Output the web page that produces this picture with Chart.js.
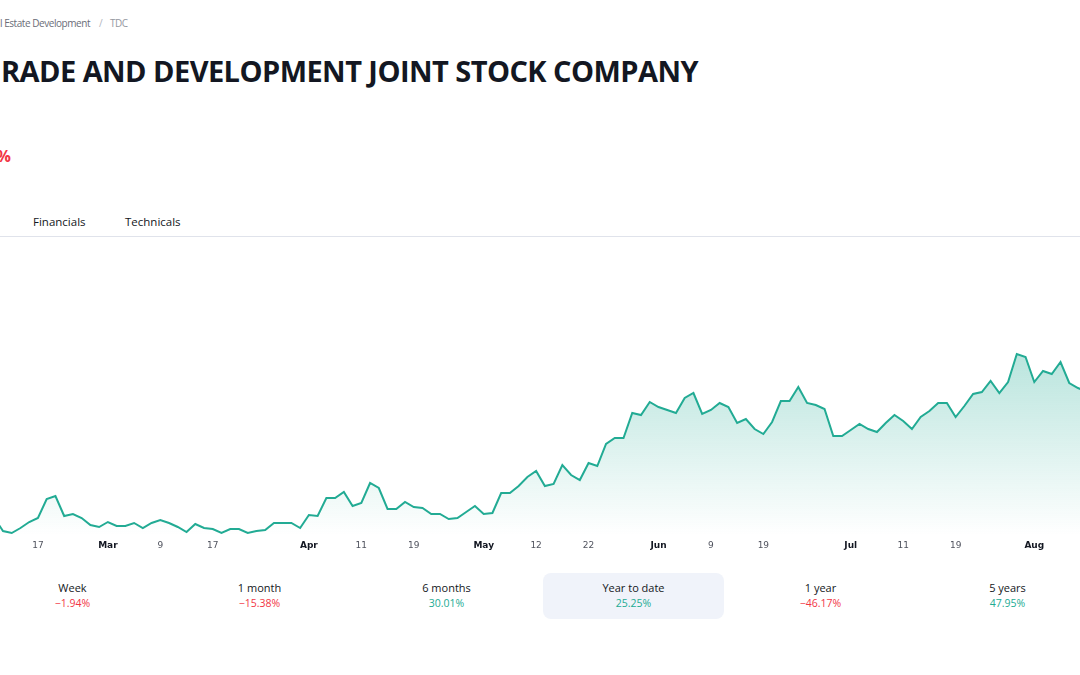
<!DOCTYPE html>
<html>
<head>
<meta charset="utf-8">
<script src="https://cdn.jsdelivr.net/npm/chart.js@4.4.1/dist/chart.umd.min.js"></script>
<style>
  html, body { margin: 0; padding: 0; background: #fff; }
  body { width: 1080px; height: 675px; position: relative; overflow: hidden;
         font-family: "Open Sans", "Noto Sans", sans-serif; color: #131722; }
  .abs { position: absolute; white-space: nowrap; }
  .crumb { top: 16px; font-size: 10px; line-height: 14px; color: #6a6d78; letter-spacing: -0.45px; }
  .title { top: 53px; font-size: 29px; line-height: 36px; font-weight: 700; color: #131722; }
  .tab { top: 214px; font-size: 11.5px; line-height: 16px; color: #131722; }
  .card { top: 573px; width: 181px; height: 46px; text-align: center; border-radius: 8px; }
  .card .lbl { margin-top: 8px; font-size: 11px; line-height: 14px; color: #131722; }
  .card .val { margin-top: 2px; font-size: 10.5px; line-height: 13px; }
  #wrap { position: absolute; left: 0; top: 300px; width: 1080px; height: 260px; }
</style>
</head>
<body>
<div class="abs crumb" style="right: 990px;">Real Estate Development</div>
<div class="abs crumb" style="left: 99px; color: #b2b5be;">/</div>
<div class="abs crumb" style="left: 110px; color: #9598a1;">TDC</div>

<div class="abs title" style="right: 1081px;">BINH DUONG T</div>
<div class="abs title" id="title" style="left: 1px;">RADE AND DEVELOPMENT JOINT STOCK COMPANY</div>

<div class="abs" style="right: 1069px; top: 146px; font-size: 16px; line-height: 20px; font-weight: 700; color: #f23645;">−0.97%</div>

<div class="abs tab" style="left: 33px;">Financials</div>
<div class="abs tab" style="left: 125px;">Technicals</div>
<div class="abs" style="left: 0; top: 236px; width: 1080px; height: 1px; background: #e0e3eb;"></div>

<div id="wrap"><canvas id="priceChart" width="1080" height="260"></canvas></div>
<div id="cards"></div>

<script>
// daily closes, first bar sits just left of the visible area
const firstBar = -1;
const prices = [
  9.10, 8.45, 8.35, 8.60, 8.90, 9.10, 10.05, 10.20, 9.20, 9.30, 9.10,
  8.75, 8.65, 8.90, 8.70, 8.70, 8.85, 8.60, 8.85, 9.00, 8.85,
  8.65, 8.40, 8.80, 8.60, 8.55, 8.35, 8.55, 8.55, 8.35, 8.45,
  8.50, 8.85, 8.85, 8.85, 8.60, 9.25, 9.20, 10.10, 10.10, 10.40,
  9.70, 9.85, 10.85, 10.60, 9.55, 9.55, 9.90, 9.65, 9.60, 9.30,
  9.30, 9.05, 9.10, 9.40, 9.70, 9.30, 9.35, 10.35, 10.35, 10.70,
  11.15, 11.45, 10.70, 10.80, 11.75, 11.25, 11.00, 11.85, 11.70, 12.80,
  13.10, 13.10, 14.35, 14.25, 14.90, 14.65, 14.50, 14.35, 15.10, 15.35,
  14.30, 14.50, 14.85, 14.65, 13.85, 14.05, 13.55, 13.30, 13.90, 14.95,
  14.95, 15.65, 14.85, 14.75, 14.55, 13.20, 13.20, 13.50, 13.80, 13.55,
  13.40, 13.85, 14.25, 13.95, 13.55, 14.15, 14.45, 14.85, 14.85, 14.15,
  14.70, 15.30, 15.40, 15.95, 15.35, 15.90, 17.30, 17.15, 15.90, 16.45,
  16.30, 16.90, 15.85, 15.60, 15.40
];

// x axis labels and the bar they sit under
const tickBars = [4, 12, 18, 24, 35, 41, 47, 55, 61, 67, 75, 81, 87, 97, 103, 109, 118];
const tickLabels = ["17", "Mar", "9", "17", "Apr", "11", "19", "May", "12", "22", "Jun", "9", "19", "Jul", "11", "19", "Aug"];
const monthLabels = ["Mar", "Apr", "May", "Jun", "Jul", "Aug"];

// performance strip
const perfLabels = ["Week", "1 month", "6 months", "Year to date", "1 year", "5 years"];
const perfValues = ["−1.94%", "−15.38%", "30.01%", "25.25%", "−46.17%", "47.95%"];
const perfUp = [false, false, true, true, false, true];
const perfActive = 3;

const green = "#22ab94";
const red = "#f23645";

// fit the title width
const title = document.getElementById("title");
const w = title.getBoundingClientRect().width;
title.style.letterSpacing = ((697 - w) / title.textContent.length) + "px";

// cards
const cards = document.getElementById("cards");
perfLabels.forEach((lbl, i) => {
  const c = document.createElement("div");
  c.className = "abs card";
  c.style.left = (543 + (i - 3) * 187) + "px";
  if (i === perfActive) c.style.background = "#f0f3fa";
  c.innerHTML = '<div class="lbl">' + lbl + '</div><div class="val" style="color:' +
    (perfUp[i] ? green : red) + '">' + perfValues[i] + '</div>';
  cards.appendChild(c);
});

const points = prices.map((p, i) => ({ x: firstBar + i, y: p }));

const ctx = document.getElementById("priceChart").getContext("2d");

const priceChart = new Chart(ctx, {
  type: "line",
  data: {
    datasets: [
      {
        data: points,
        borderColor: green,
        borderWidth: 2,
        pointRadius: 0,
        tension: 0,
        fill: "start",
        backgroundColor: (c) => {
          const area = c.chart.chartArea;
          if (!area) return "rgba(34,171,148,0.2)";
          const g = c.chart.ctx.createLinearGradient(0, 50, 0, area.bottom);
          g.addColorStop(0, "rgba(34,171,148,0.32)");
          g.addColorStop(1, "rgba(34,171,148,0.0)");
          return g;
        },
      },
    ],
  },
  options: {
    responsive: false,
    animation: false,
    devicePixelRatio: 1,
    layout: { padding: 0 },
    plugins: { legend: { display: false }, tooltip: { enabled: false } },
    scales: {
      x: {
        type: "linear",
        min: -0.343,
        max: 123.23,
        grid: { display: false, drawTicks: false },
        border: { display: false },
        afterBuildTicks: (s) => {
          s.ticks = tickBars.map((v) => ({ value: v }));
        },
        afterFit: (s) => {
          s.height = 25;
        },
        ticks: {
          autoSkip: false,
          maxRotation: 0,
          padding: 5,
          callback: (v, i) => tickLabels[i],
          color: (c) => (monthLabels.includes(tickLabels[c.index]) ? "#131722" : "#50535e"),
          font: (c) => ({
            family: "DejaVu Sans",
            size: 9,
            weight: monthLabels.includes(tickLabels[c.index]) ? "bold" : "normal",
          }),
        },
      },
      y: {
        display: false,
        min: 8.25,
        max: 20,
      },
    },
  },
});
</script>
</body>
</html>
